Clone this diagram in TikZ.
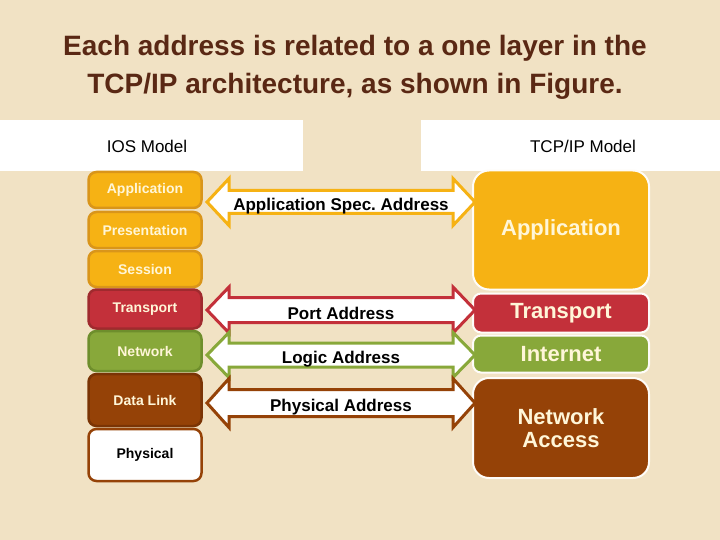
\documentclass[tikz,border=0pt]{standalone}
\usepackage{fontspec}
\setmainfont{Liberation Sans}
\usetikzlibrary{calc}
\frenchspacing
\definecolor{bg}{HTML}{F1E2C4}
\definecolor{titlec}{HTML}{5A2814}
\definecolor{orng}{HTML}{F6B214}
\definecolor{orngd}{HTML}{D9951A}
\definecolor{redc}{HTML}{C3303A}
\definecolor{redd}{HTML}{A02A2E}
\definecolor{grn}{HTML}{88A83A}
\definecolor{grnd}{HTML}{6E8E2C}
\definecolor{brn}{HTML}{954207}
\definecolor{brnd}{HTML}{7A3405}
\definecolor{cream}{HTML}{FFF6D8}
\tikzset{
  osi/.style={draw=#1, line width=2.5pt, rounded corners=8pt, minimum width=113pt, inner sep=0pt,
     font=\bfseries\fontsize{14}{16}\selectfont, text=cream},
  tcp/.style={draw=white!90!bg, line width=2pt, rounded corners=#1, minimum width=176pt, inner sep=0pt,
     font=\bfseries\fontsize{22}{25}\selectfont, text=cream, align=center},
  lbl/.style={font=\bfseries\fontsize{17}{19}\selectfont, text=black},
  band/.style={fill=white, draw=none},
  blk/.style={fill=white, draw=#1, line width=3pt, line join=miter}
}
\newcommand{\dblarr}[4]{% y, headhalf, bodyhalf, color
  \draw[blk=#4] (207,#1) -- (229,#1-#2) -- (229,#1-#3) -- (453,#1-#3) -- (453,#1-#2)
     -- (475,#1) -- (453,#1+#2) -- (453,#1+#3) -- (229,#1+#3) -- (229,#1+#2) -- cycle;}
\begin{document}
\begin{tikzpicture}[x=1pt,y=-1pt]
\fill[bg] (0,0) rectangle (720,540);
\useasboundingbox (0,0) rectangle (720,540);
% title
\node (title) [text=titlec, font=\bfseries\fontsize{28}{38}\selectfont, align=center] at (355,67)
  {Each address is related to a one layer in the\\TCP/IP architecture, as shown in Figure.};
% bands
\fill[band] (0,120) rectangle (303,171);
\fill[band] (421,120) rectangle (720,171);
\node (iosm) [font=\fontsize{17}{19}\selectfont] at (147,146) {IOS Model};
\node (tcpm) [font=\fontsize{17}{19}\selectfont] at (583,146) {TCP/IP Model};
% OSI stack
\node (oapp) [osi=orngd, fill=orng, minimum height=36pt] at (145,190) {Application};
\node (opre) [osi=orngd, fill=orng, minimum height=36pt] at (145,230) {Presentation};
\node (oses) [osi=orngd, fill=orng, minimum height=36pt] at (145,269) {Session};
\node (otra) [osi=redd, fill=redc, minimum height=39pt] at (145,309) {Transport};
\node (onet) [osi=grnd, fill=grn, minimum height=40pt] at (145,351) {Network};
\node (odl) [osi=brnd, fill=brn, minimum height=52pt] at (145,400) {Data Link};
\node (ophy) [osi=brn, fill=white, text=black, minimum height=52pt] at (145,455) {Physical};
% TCP/IP stack
\node (tapp) [tcp=16pt, fill=orng, minimum height=119pt] at (561,230) {Application};
\node (ttra) [tcp=8pt, fill=redc, minimum height=39pt] at (561,313) {Transport};
\node (tint) [tcp=8pt, fill=grn, minimum height=37pt] at (561,354) {Internet};
\node (tna) [tcp=16pt, fill=brn, minimum height=100pt] at (561,428) {Network\\[-2pt]Access};
% arrows
\dblarr{202}{23.5}{11.5}{orng}
\dblarr{310}{23}{12.5}{redc}
\dblarr{355}{22.5}{12}{grn}
\dblarr{403}{24.5}{13.5}{brn}
\node (aspec) [lbl] at (341,206) {Application Spec. Address};
\node (aport) [lbl] at (341,313) {Port Address};
\node (alog) [lbl] at (341,359) {Logic Address};
\node (aphy) [lbl] at (341,407) {Physical Address};
\end{tikzpicture}
\end{document}
